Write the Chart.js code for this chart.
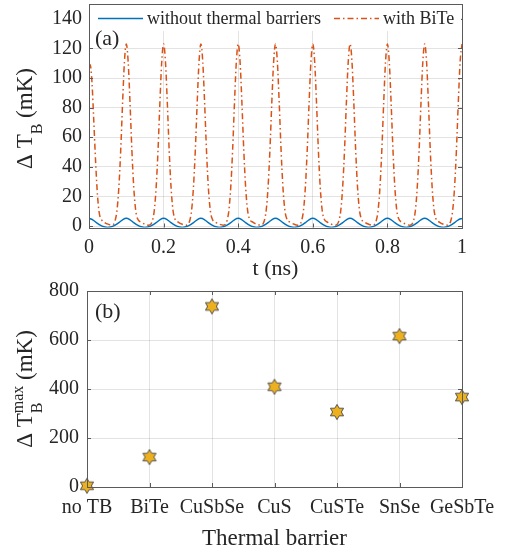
<!DOCTYPE html>
<html>
<head>
<meta charset="utf-8">
<script src="https://cdn.jsdelivr.net/npm/chart.js@4/dist/chart.umd.min.js"></script>
<style>
html, body { margin: 0; padding: 0; background: #fff; }
#wrap { position: relative; width: 508px; height: 549px; }
canvas { position: absolute; left: 0; }
</style>
</head>
<body>
<div id="wrap">
  <canvas id="chartA" width="508" height="280" style="top:0"></canvas>
  <canvas id="chartB" width="508" height="269" style="top:280px"></canvas>
</div>
<script>

// ---- (a) temperature traces, t in ns ----
const tTicks = [0, 0.2, 0.4, 0.6, 0.8, 1];
const tTickLabels = ['0', '0.2', '0.4', '0.6', '0.8', '1'];
const dTTicks = [0, 20, 40, 60, 80, 100, 120, 140];

// without thermal barriers: small bumps every 0.1 ns
const bluePeaks = [0, 0.1, 0.2, 0.3, 0.4, 0.5, 0.6, 0.7, 0.8, 0.9, 1.0];
const blueOffsets = [-0.04, -0.03, -0.02, -0.01, 0, 0.01, 0.02, 0.03, 0.04, 0.05];
const blueValues = [-0.5, 0.6, 2.3, 4.2, 5.2, 4.2, 2.3, 0.6, -0.5, -0.95];

// with BiTe: first (cut) pulse, then sharp pulses every 0.1 ns
const biteHeadT = [0, 0.003, 0.008, 0.013, 0.018, 0.023, 0.028, 0.033, 0.043, 0.053, 0.06];
const biteHeadV = [108, 109, 97, 70, 42, 20, 8, 4.5, 2.2, 1.1, 0.6];
const bitePeaks = [0.1, 0.2, 0.3, 0.4, 0.5, 0.6, 0.7, 0.8, 0.9, 1.0];
const biteOffsets = [-0.035, -0.03, -0.025, -0.02, -0.015, -0.01, -0.005, 0, 0.005, 0.01, 0.015, 0.02, 0.025, 0.03, 0.04, 0.05, 0.06];
const biteValues = [1, 3.6, 10.5, 26, 51, 83, 111, 123, 111, 83, 51, 26, 11, 5, 2.5, 1.2, 0.6];

// ---- (b) peak temperature per barrier ----
const barriers = ['no TB', 'BiTe', 'CuSbSe', 'CuS', 'CuSTe', 'SnSe', 'GeSbTe'];
const dTmax = [5, 122, 737, 409, 306, 616, 367];
const dTmaxTicks = [0, 200, 400, 600, 800];

const FONT = '"Liberation Serif", "Times New Roman", serif';
const TXT = '#262626';
const GRID = 'rgba(38,38,38,0.13)';
const FRAME = '#5a5a5a';

Chart.defaults.font.family = FONT;
Chart.defaults.color = TXT;
Chart.defaults.animation = false;

function tile(peaks, offs, vals) {
  const pts = [];
  peaks.forEach(p => {
    offs.forEach((o, i) => {
      const t = Math.round((p + o) * 10000) / 10000;
      if (t >= 0 && t <= 1) pts.push({x: t, y: vals[i]});
    });
  });
  return pts;
}

const blueData = tile(bluePeaks, blueOffsets, blueValues);
const biteData = biteHeadT.map((t, i) => ({x: t, y: biteHeadV[i]}))
  .concat(tile(bitePeaks, biteOffsets, biteValues));

// rich text along a rotated axis title (sub/superscripts)
function drawRuns(ctx, runs, baseX, centerY) {
  let total = 0;
  runs.forEach(r => {
    ctx.font = r.size + 'px ' + FONT;
    r.w = ctx.measureText(r.text).width;
    if (!r.stack) total += r.adv !== undefined ? r.adv : r.w;
  });
  ctx.save();
  ctx.translate(baseX, centerY + total / 2);
  ctx.rotate(-Math.PI / 2);
  ctx.fillStyle = TXT;
  ctx.textBaseline = 'alphabetic';
  ctx.textAlign = 'left';
  let cx = 0;
  runs.forEach(r => {
    ctx.font = r.size + 'px ' + FONT;
    ctx.fillText(r.text, cx, r.dy || 0);
    if (!r.stack) cx += r.adv !== undefined ? r.adv : r.w;
  });
  ctx.restore();
}

function frameAndTicks(chart, xVals, yVals) {
  const ctx = chart.ctx;
  const {left, right, top, bottom} = chart.chartArea;
  const xs = chart.scales.x, ys = chart.scales.y;
  const L = 4;
  ctx.save();
  ctx.strokeStyle = FRAME;
  ctx.lineWidth = 1;
  ctx.beginPath();
  xVals.forEach(v => {
    const px = Math.round(xs.getPixelForValue(v)) + 0.5;
    ctx.moveTo(px, bottom); ctx.lineTo(px, bottom - L);
    ctx.moveTo(px, top); ctx.lineTo(px, top + L);
  });
  yVals.forEach(v => {
    const py = Math.round(ys.getPixelForValue(v)) + 0.5;
    ctx.moveTo(left, py); ctx.lineTo(left + L, py);
    ctx.moveTo(right, py); ctx.lineTo(right - L, py);
  });
  ctx.stroke();
  ctx.restore();
}

function drawFrame(chart) {
  const ctx = chart.ctx;
  const {left, right, top, bottom} = chart.chartArea;
  ctx.save();
  ctx.strokeStyle = FRAME;
  ctx.lineWidth = 1;
  ctx.strokeRect(Math.round(left) + 0.5, Math.round(top) + 0.5,
    Math.round(right - left), Math.round(bottom - top));
  ctx.restore();
}

const decorA = {
  id: 'decorA',
  afterDraw(chart) {
    const ctx = chart.ctx;
    frameAndTicks(chart, tTicks, dTTicks);
    // legend inside the top of the axes
    ctx.save();
    ctx.fillStyle = '#fff';
    ctx.fillRect(90, 5, 371, 26);
    ctx.lineWidth = 1.5;
    ctx.strokeStyle = '#0072BD';
    ctx.beginPath(); ctx.moveTo(98, 18.5); ctx.lineTo(143, 18.5); ctx.stroke();
    ctx.strokeStyle = '#D95319';
    ctx.setLineDash([6, 3, 1.5, 3]);
    ctx.beginPath(); ctx.moveTo(334, 18.5); ctx.lineTo(379, 18.5); ctx.stroke();
    ctx.setLineDash([]);
    ctx.fillStyle = TXT;
    ctx.font = '18px ' + FONT;
    ctx.textBaseline = 'alphabetic';
    ctx.fillText(chart.data.datasets[0].label, 147, 24);
    ctx.fillText(chart.data.datasets[1].label, 383, 24);
    ctx.restore();
    drawFrame(chart);
    ctx.save();
    ctx.fillStyle = TXT;
    ctx.font = '22px ' + FONT;
    ctx.textBaseline = 'alphabetic';
    ctx.fillText('(a)', 95, 45);
    ctx.textAlign = 'center';
    ctx.fillText('t (ns)', 275.5, 275);
    ctx.restore();
    drawRuns(ctx, [
      {text: '\u0394 T', size: 23},
      {text: 'B', size: 16, dy: 10},
      {text: ' (mK)', size: 23}
    ], 32, 118.5);
  }
};

const decorB = {
  id: 'decorB',
  afterDraw(chart) {
    const ctx = chart.ctx;
    frameAndTicks(chart, barriers.map((b, i) => i), dTmaxTicks);
    drawFrame(chart);
    ctx.save();
    ctx.fillStyle = TXT;
    ctx.font = '22px ' + FONT;
    ctx.textBaseline = 'alphabetic';
    ctx.fillText('(b)', 95, 38);
    ctx.font = '23px ' + FONT;
    ctx.textAlign = 'center';
    ctx.fillText('Thermal barrier', 274.5, 265);
    ctx.restore();
    drawRuns(ctx, [
      {text: '\u0394 T', size: 23},
      {text: 'B', size: 16, dy: 10, stack: true},
      {text: 'max', size: 16, dy: -9},
      {text: ' (mK)', size: 23}
    ], 32, 109);
  }
};

// hexagram marker
function hexagram() {
  const c = document.createElement('canvas');
  c.width = 18; c.height = 18;
  const g = c.getContext('2d');
  const R = 7.6, r = R / Math.sqrt(3);
  g.beginPath();
  for (let k = 0; k < 12; k++) {
    const a = -Math.PI / 2 + k * Math.PI / 6;
    const rr = k % 2 === 0 ? R : r;
    const px = 9 + rr * Math.cos(a), py = 9 + rr * Math.sin(a);
    if (k === 0) g.moveTo(px, py); else g.lineTo(px, py);
  }
  g.closePath();
  g.fillStyle = '#EDB120';
  g.fill();
  g.lineWidth = 0.9;
  g.strokeStyle = '#444';
  g.stroke();
  return c;
}

new Chart(document.getElementById('chartA'), {
  type: 'line',
  data: {
    datasets: [{
      label: 'without thermal barriers',
      data: blueData,
      borderColor: '#0072BD',
      borderWidth: 1.5,
      pointRadius: 0,
      cubicInterpolationMode: 'monotone'
    }, {
      label: 'with BiTe',
      data: biteData,
      borderColor: '#D95319',
      borderWidth: 1.5,
      borderDash: [6, 3, 1.5, 3],
      pointRadius: 0,
      cubicInterpolationMode: 'monotone'
    }]
  },
  options: {
    responsive: false,
    layout: {padding: {left: 0, right: 46, top: 4, bottom: 0}},
    plugins: {legend: {display: false}, tooltip: {enabled: false}},
    scales: {
      x: {
        type: 'linear', min: 0, max: 1,
        afterBuildTicks: s => { s.ticks = tTicks.map(v => ({value: v})); },
        afterFit: s => { s.height = 52.5; s.paddingLeft = 0; s.paddingRight = 0; },
        ticks: {
          font: {size: 20}, padding: 8, maxRotation: 0, autoSkip: false,
          callback: (v, i) => tTickLabels[i]
        },
        grid: {color: GRID, drawTicks: false},
        border: {display: false}
      },
      y: {
        min: -1, max: 150,
        afterBuildTicks: s => { s.ticks = dTTicks.map(v => ({value: v})); },
        afterFit: s => { s.width = 89; s.paddingTop = 0; s.paddingBottom = 0; },
        ticks: {font: {size: 20}, padding: 7},
        grid: {color: GRID, drawTicks: false},
        border: {display: false}
      }
    }
  },
  plugins: [decorA]
});

new Chart(document.getElementById('chartB'), {
  type: 'line',
  data: {
    labels: barriers,
    datasets: [{
      label: 'max dT',
      data: dTmax,
      showLine: false,
      pointStyle: hexagram(),
      clip: false
    }]
  },
  options: {
    responsive: false,
    layout: {padding: {left: 0, right: 46, top: 11, bottom: 0}},
    plugins: {legend: {display: false}, tooltip: {enabled: false}},
    scales: {
      x: {
        type: 'category', offset: false,
        afterFit: s => { s.height = 62; s.paddingLeft = 0; s.paddingRight = 0; },
        ticks: {font: {size: 20}, padding: 9, maxRotation: 0, autoSkip: false},
        grid: {color: GRID, drawTicks: false},
        border: {display: false}
      },
      y: {
        min: 0, max: 800,
        afterBuildTicks: s => { s.ticks = dTmaxTicks.map(v => ({value: v})); },
        afterFit: s => { s.width = 87; s.paddingTop = 0; s.paddingBottom = 0; },
        ticks: {font: {size: 20}, padding: 8},
        grid: {color: GRID, drawTicks: false},
        border: {display: false}
      }
    }
  },
  plugins: [decorB]
});
</script>
</body>
</html>
